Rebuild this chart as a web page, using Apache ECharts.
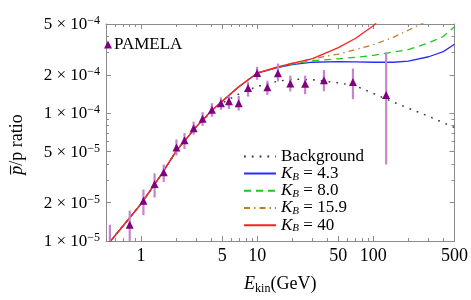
<!DOCTYPE html>
<html><head><meta charset="utf-8">
<script src="https://cdn.jsdelivr.net/npm/echarts@6/dist/echarts.min.js"></script>
<style>html,body{margin:0;padding:0;background:#fff}#c{width:471px;height:300px}</style>
</head><body><div id="c"></div>
<script>
// ---- axis ticks ----
const xTickValues = [1, 5, 10, 50, 100, 500];
const xTickLabels = ['1', '5', '10', '50', '100', '500'];
const xMinorTicks = [0.6, 0.7, 0.8, 0.9, 2, 3, 4, 6, 7, 8, 9, 20, 30, 40, 60, 70, 80, 90, 200, 300, 400];
const yTickValues = [1e-5, 2e-5, 5e-5, 1e-4, 2e-4, 5e-4];
const yTickMant = ['1', '2', '5', '1', '2', '5'];
const yTickExp = ['\u22125', '\u22125', '\u22125', '\u22124', '\u22124', '\u22124'];
const yMinorTicks = [3e-5, 4e-5, 6e-5, 7e-5, 8e-5, 9e-5, 3e-4, 4e-4];
const xRange = [0.5, 500];
const yRange = [1e-5, 5e-4];

// ---- PAMELA data ----
const pamE  = [0.54, 0.80, 1.05, 1.31, 1.57, 2.02, 2.37, 2.84, 3.39, 4.08, 4.88, 5.72, 6.94, 8.35, 10.0, 12.25, 15.1, 19.3, 25.9, 37.6, 66.8, 129];
const pamR  = [0.9e-5, 1.34e-5, 2.07e-5, 2.80e-5, 3.45e-5, 5.39e-5, 6.14e-5, 7.64e-5, 9.05e-5, 1.065e-4, 1.20e-4, 1.24e-4, 1.197e-4, 1.58e-4, 2.07e-4, 1.60e-4, 2.06e-4, 1.71e-4, 1.70e-4, 1.81e-4, 1.76e-4, 1.39e-4];
const pamHi = [1.34e-5, 1.73e-5, 2.53e-5, 3.39e-5, 3.97e-5, 6.24e-5, 7.0e-5, 8.6e-5, 1.02e-4, 1.20e-4, 1.33e-4, 1.37e-4, 1.37e-4, 1.76e-4, 2.31e-4, 1.80e-4, 2.45e-4, 1.97e-4, 1.97e-4, 2.18e-4, 2.24e-4, 3.0e-4];
const pamLo = [0.6e-5, 1.0e-5, 1.59e-5, 2.19e-5, 2.90e-5, 4.67e-5, 5.25e-5, 6.81e-5, 7.97e-5, 9.38e-5, 1.065e-4, 1.08e-4, 1.05e-4, 1.35e-4, 1.83e-4, 1.39e-4, 1.78e-4, 1.48e-4, 1.41e-4, 1.49e-4, 1.29e-4, 3.97e-5];

// ---- model curves ----
const curveE     = [0.5, 0.7, 1, 1.5, 2, 3, 4, 5, 7, 10, 15, 20, 30, 50, 70, 100, 150, 200, 300, 400, 500];
const background = [9.05e-6, 1.31e-5, 1.95e-5, 3.32e-5, 5.03e-5, 7.86e-5, 1.02e-4, 1.20e-4, 1.42e-4, 1.62e-4, 1.78e-4, 1.85e-4, 1.83e-4, 1.73e-4, 1.64e-4, 1.43e-4, 1.22e-4, 1.097e-4, 9.46e-5, 8.44e-5, 7.74e-5];
const kb43       = [9.05e-6, 1.31e-5, 1.95e-5, 3.32e-5, 5.03e-5, 7.86e-5, 1.035e-4, 1.24e-4, 1.62e-4, 2.06e-4, 2.28e-4, 2.40e-4, 2.51e-4, 2.54e-4, 2.53e-4, 2.51e-4, 2.51e-4, 2.56e-4, 2.77e-4, 3.04e-4, 3.47e-4];
const kb80       = [9.05e-6, 1.31e-5, 1.95e-5, 3.32e-5, 5.03e-5, 7.86e-5, 1.035e-4, 1.24e-4, 1.62e-4, 2.06e-4, 2.29e-4, 2.43e-4, 2.58e-4, 2.67e-4, 2.74e-4, 2.84e-4, 3.02e-4, 3.15e-4, 3.56e-4, 3.99e-4, 4.75e-4];
const kb159      = [9.05e-6, 1.31e-5, 1.95e-5, 3.32e-5, 5.03e-5, 7.86e-5, 1.035e-4, 1.24e-4, 1.62e-4, 2.06e-4, 2.30e-4, 2.46e-4, 2.67e-4, 2.91e-4, 3.15e-4, 3.44e-4, 3.95e-4, 4.47e-4, 5.36e-4, null, null];
const kb40       = [9.05e-6, 1.31e-5, 1.95e-5, 3.32e-5, 5.03e-5, 7.86e-5, 1.035e-4, 1.24e-4, 1.62e-4, 2.06e-4, 2.31e-4, 2.46e-4, 2.68e-4, 3.27e-4, 3.85e-4, 4.85e-4, 7.0e-4, null, null, null, null];

const L = Math.log10;
const FONT = 'Liberation Serif';
const AX = '#8c8c8c';

function curve(arr) {
  const out = [];
  curveE.forEach((e, i) => { if (arr[i] != null) out.push([L(e), L(arr[i])]); });
  return out;
}
function findIdx(vals, v) {
  for (let i = 0; i < vals.length; i++) if (Math.abs(L(vals[i]) - v) < 1e-6) return i;
  return -1;
}

function xAx(pos, ticks, len, main) {
  return {
    type: 'value', position: pos, min: L(xRange[0]), max: L(xRange[1]),
    axisLine: { show: main, onZero: false, lineStyle: { color: AX, width: 1 } },
    axisTick: { show: true, inside: true, length: len, customValues: ticks.map(L), lineStyle: { color: AX } },
    axisLabel: (main && pos === 'bottom') ? {
      show: true, customValues: xTickValues.map(L), margin: 6,
      fontFamily: FONT, fontSize: 18, color: '#000',
      formatter: v => { const i = findIdx(xTickValues, v); return i >= 0 ? xTickLabels[i] : ''; }
    } : { show: false },
    splitLine: { show: false }
  };
}
function yAx(pos, ticks, len, main) {
  return {
    type: 'value', position: pos, min: L(yRange[0]), max: L(yRange[1]),
    axisLine: { show: main, onZero: false, lineStyle: { color: AX, width: 1 } },
    axisTick: { show: true, inside: true, length: len, customValues: ticks.map(L), lineStyle: { color: AX } },
    axisLabel: (main && pos === 'left') ? {
      show: true, customValues: yTickValues.map(L), margin: 6,
      formatter: v => { const i = findIdx(yTickValues, v); return i >= 0 ? '{m|' + yTickMant[i] + ' \u00d7 10}{s|' + yTickExp[i] + '}' : ''; },
      rich: {
        m: { fontFamily: FONT, fontSize: 17, color: '#000', lineHeight: 18, verticalAlign: 'bottom' },
        s: { fontFamily: FONT, fontSize: 12, color: '#000', lineHeight: 10, verticalAlign: 'top' }
      }
    } : { show: false },
    splitLine: { show: false }
  };
}

const xMain = xAx('bottom', xTickValues, 5, true);
xMain.name = '{i|E}{s|kin}{n|(GeV)}';
xMain.nameLocation = 'middle';
xMain.nameGap = 34;
xMain.nameTextStyle = {
  rich: {
    i: { fontFamily: FONT, fontSize: 18, fontStyle: 'italic', color: '#000', lineHeight: 20, verticalAlign: 'top' },
    s: { fontFamily: FONT, fontSize: 12, color: '#000', lineHeight: 12, verticalAlign: 'bottom' },
    n: { fontFamily: FONT, fontSize: 18, color: '#000', lineHeight: 20, verticalAlign: 'top' }
  }
};
const yMain = yAx('left', yTickValues, 5, true);
yMain.name = '{i|p\u0305}{n|/p ratio}';
yMain.nameLocation = 'middle';
yMain.nameGap = 80;
yMain.nameRotate = 90;
yMain.nameTextStyle = {
  padding: [0, 24, 0, 0],
  rich: {
    i: { fontFamily: FONT, fontSize: 18, fontStyle: 'italic', color: '#000' },
    n: { fontFamily: FONT, fontSize: 18, color: '#000' }
  }
};

const lineBase = { type: 'line', symbol: 'none', smooth: false, clip: true, xAxisIndex: 0, yAxisIndex: 0 };
function lineSeries(name, arr, color, width, type) {
  return Object.assign({}, lineBase, {
    name: name, data: curve(arr), z: 2,
    itemStyle: { color: color, opacity: 0 },
    lineStyle: { color: color, width: width, type: type, opacity: 1 }
  });
}

const option = {
  animation: false,
  backgroundColor: '#fff',
  grid: { left: 96, right: 15, top: 24, bottom: 52, containLabel: false },
  xAxis: [xMain, xAx('bottom', xMinorTicks, 3, false), xAx('top', xTickValues, 5, true), xAx('top', xMinorTicks, 3, false)],
  yAxis: [yMain, yAx('left', yMinorTicks, 3, false), yAx('right', yTickValues, 5, true), yAx('right', yMinorTicks, 3, false)],
  legend: [
    {
      data: ['PAMELA'], left: 99, top: 31, itemWidth: 8, itemHeight: 8,
      textStyle: { fontFamily: FONT, fontSize: 17, color: '#000', padding: [0, 0, 0, -3] }
    },
    {
      data: ['Background', 'KB = 4.3', 'KB = 8.0', 'KB = 15.9', 'KB = 40'],
      orient: 'vertical', left: 238, top: 143, itemWidth: 32, itemHeight: 10, itemGap: 0,
      itemStyle: { opacity: 0 },
      formatter: name => name.indexOf('KB') === 0 ? '{k|K}{b|B}{n|' + name.slice(2) + '}' : '{n|' + name + '}',
      textStyle: {
        fontFamily: FONT, fontSize: 17, color: '#000',
        rich: {
          k: { fontFamily: FONT, fontSize: 17, fontStyle: 'italic', color: '#000', lineHeight: 17.5 },
          b: { fontFamily: FONT, fontSize: 11, fontStyle: 'italic', color: '#000', lineHeight: 9, verticalAlign: 'bottom' },
          n: { fontFamily: FONT, fontSize: 17, color: '#000', lineHeight: 17.5 }
        }
      }
    }
  ],
  series: [
    lineSeries('Background', background, '#333333', 1.4, [1.8, 6]),
    lineSeries('KB = 4.3', kb43, '#2b2bff', 1.3, 'solid'),
    lineSeries('KB = 8.0', kb80, '#22c422', 1.3, [7, 5]),
    lineSeries('KB = 15.9', kb159, '#c87a2a', 1.3, [6, 4, 1.5, 4]),
    lineSeries('KB = 40', kb40, '#ff2020', 1.3, 'solid'),
    {
      type: 'custom', name: 'PAMELA errors', clip: true, z: 3, xAxisIndex: 0, yAxisIndex: 0,
      data: pamE.map((e, i) => [L(e), L(pamLo[i]), L(pamHi[i])]),
      encode: { x: 0, y: [1, 2] },
      renderItem: (params, api) => {
        const p1 = api.coord([api.value(0), api.value(1)]);
        const p2 = api.coord([api.value(0), api.value(2)]);
        return { type: 'line', shape: { x1: p1[0], y1: p1[1], x2: p2[0], y2: p2[1] }, style: { stroke: '#c585cc', lineWidth: 2.2 } };
      }
    },
    {
      type: 'scatter', name: 'PAMELA', symbol: 'triangle', symbolSize: 8, clip: true, z: 4,
      xAxisIndex: 0, yAxisIndex: 0,
      itemStyle: { color: '#800080', opacity: 1 },
      data: pamE.map((e, i) => [L(e), L(pamR[i])])
    }
  ]
};
const chart = echarts.init(document.getElementById('c'), null, { renderer: 'canvas' });
chart.setOption(option);
</script>
</body></html>
